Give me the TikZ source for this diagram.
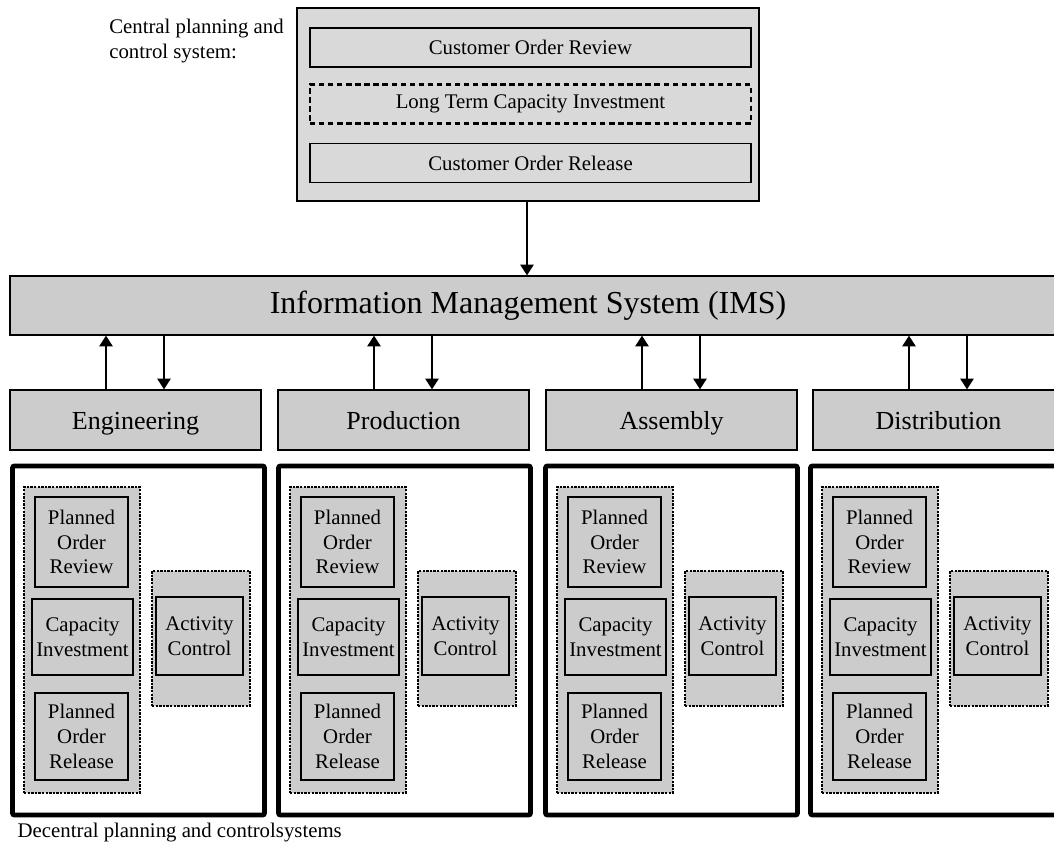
\documentclass[tikz,border=0pt]{standalone}
\usepackage{fontspec}
\setmainfont{Liberation Serif}
\usetikzlibrary{arrows.meta}
\newcommand{\smallfont}{\fontsize{15.6}{18.6}\selectfont}
\begin{document}
\begin{tikzpicture}[x=0.75pt,y=-0.75pt,
  box/.style={draw,inner sep=0pt,align=center,font=\smallfont},
  topbox/.style={box,fill=black!15,line width=1.1pt,minimum width=330.75pt,minimum height=29.25pt},
  bar/.style={box,fill=black!20,line width=1pt},
  frame/.style={draw,line width=3.6pt,rounded corners=1.5pt,minimum width=189pt,minimum height=261.75pt,inner sep=0pt},
  dotbox/.style={draw,fill=black!20,line width=2.2pt,dash pattern=on 1.8pt off 0.9pt,inner sep=0pt},
  taskbox/.style={box,fill=black!20,line width=1.3pt},
  arr/.style={-{Triangle[width=10pt,length=8pt]},line width=1.1pt}]
\useasboundingbox (0,0) rectangle (1054,845);
\clip (0,0) rectangle (1054,845);
% central planning and control
\node[anchor=north west,align=left,inner sep=0pt,font=\smallfont] (clabel) at (109,19) {Central planning and\\control system:};
\node[draw,fill=black!15,line width=1pt,minimum width=346.5pt,minimum height=144.75pt] (cps) at (528,104.5) {};
\node[topbox] (cor) at (530.5,47.5) {Customer Order Review};
\node[topbox,line width=1.6pt,dash pattern=on 4pt off 2.8pt] (ltci) at (530.5,104) {Long Term Capacity Investment};
\node[topbox] (corel) at (530.5,163) {Customer Order Release};
% information management system
\node[bar,minimum width=795pt,minimum height=44.25pt] (ims) at (540,305.5) {};
\node[font=\fontsize{24}{28}\selectfont] (imstext) at (528,305.5) {Information Management System (IMS)};
\coordinate (mid) at (527,0);
\draw[arr] (cps.south -| mid) -- (ims.north -| mid);
% decentral units
\foreach \nm/\lbl/\D/\T in {eng/Engineering/10/12,prod/Production/278/278,asm/Assembly/546/545,dist/Distribution/813/810}{
  \node[bar,minimum width=188.25pt,minimum height=45pt,text height=15pt,text depth=1.5pt,font=\fontsize{19.5}{23}\selectfont] (\nm) at ({\D+125.5},420) {\lbl};
  \coordinate (up\nm) at ({\D+96},0);
  \coordinate (dn\nm) at ({\D+154},0);
  \draw[arr] (\nm.north -| up\nm) -- (ims.south -| up\nm);
  \draw[arr] (ims.south -| dn\nm) -- (\nm.north -| dn\nm);
  \node[frame] (fr\nm) at ({\T+126.5},640.5) {};
  \node[dotbox,minimum width=87pt,minimum height=229.5pt] (grp\nm) at ({\T+70},640) {};
  \node[taskbox,minimum width=69.75pt,minimum height=67.5pt] (por\nm) at ({\T+69.5},542) {Planned\\Order\\Review};
  \node[taskbox,minimum width=75.75pt,minimum height=57pt] (ci\nm) at ({\T+70.5},637) {Capacity\\Investment};
  \node[taskbox,minimum width=69.75pt,minimum height=65.25pt] (porel\nm) at ({\T+69.5},736.5) {Planned\\Order\\Release};
  \node[dotbox,minimum width=73.5pt,minimum height=101.25pt] (acg\nm) at ({\T+189},638.5) {};
  \node[taskbox,minimum width=65.25pt,minimum height=58.5pt] (ac\nm) at ({\T+187.5},636) {Activity\\Control};
}
\node[anchor=base west,font=\smallfont] (dlabel) at (13,837) {Decentral planning and controlsystems};
\end{tikzpicture}
\end{document}
